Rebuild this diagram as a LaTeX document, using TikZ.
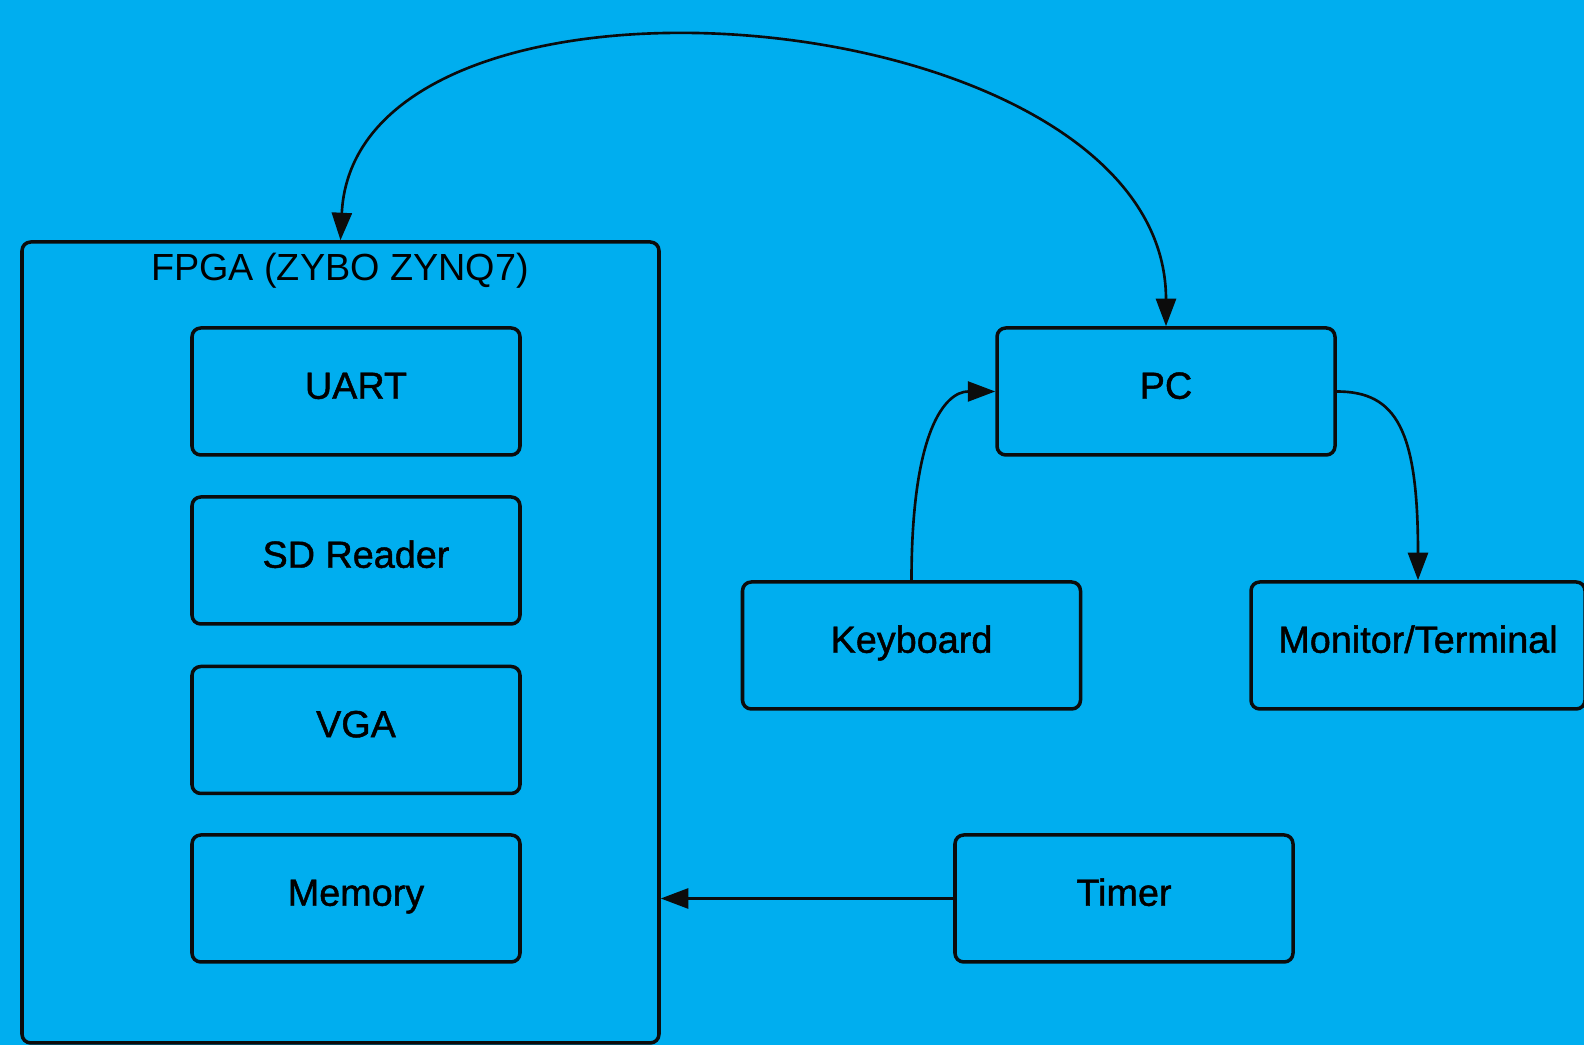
\documentclass[tikz,border=0pt]{standalone}
\usepackage{fontspec}
\setmainfont{Liberation Sans}
\newfontfamily\boxfont[FakeBold=1.2]{Liberation Sans}
\usetikzlibrary{arrows.meta}
\definecolor{skyblue}{RGB}{0,174,239}
\definecolor{inkline}{RGB}{12,12,12}

\begin{document}
\begin{tikzpicture}[
    box/.style={draw=inkline, line width=2pt, rounded corners=5pt, minimum height=2.54cm,
        text height=0.55cm, text depth=0.26cm, font=\boxfont\fontsize{21.5}{26}\selectfont},
    fpgaunit/.style={box, minimum width=6.56cm},
    hostdev/.style={box, minimum width=6.76cm},
    link/.style={draw=inkline, line width=1.5pt, >={Triangle[length=0.55cm, width=0.4cm]}}
]
    \fill[skyblue] (0, 0) rectangle (31.68, 20.9);
    \useasboundingbox (0, 0) rectangle (31.68, 20.9);

    % the board and its parts
    \node[draw=inkline, line width=2pt, rounded corners=5pt, minimum width=12.74cm, minimum height=16.02cm] (FPGA) at (6.81, 8.05) {};
    \node[font=\fontsize{21.5}{26}\selectfont] (FPGAname) at (6.80, 15.48) {FPGA (ZYBO ZYNQ7)};
    \node[fpgaunit] (UART) at (7.12, 13.07) {UART};
    \node[fpgaunit] (SD) at (7.12, 9.69) {SD Reader};
    \node[fpgaunit] (VGA) at (7.12, 6.30) {VGA};
    \node[fpgaunit] (Mem) at (7.12, 2.93) {Memory};

    % outside the board
    \node[hostdev] (PC) at (23.32, 13.07) {PC};
    \node[hostdev] (KB) at (18.23, 7.99) {Keyboard};
    \node[box, minimum width=6.68cm] (Mon) at (28.36, 7.99) {Monitor/Terminal};
    \node[hostdev] (Timer) at (22.48, 2.93) {Timer};

    \draw[link, <->] (FPGA.north) .. controls +(0.3, 6.2) and +(0, 6.6) .. (PC.north);
    \draw[link, ->] (KB.north) .. controls +(0, 3.0) and +(-1.0, 0) .. (PC.west);
    \draw[link, ->] (PC.east) .. controls +(1.2, 0) and +(0, 3.0) .. (Mon.north);
    \draw[link, ->] (Timer.west) -- (Timer.west -| FPGA.east);
\end{tikzpicture}
\end{document}
